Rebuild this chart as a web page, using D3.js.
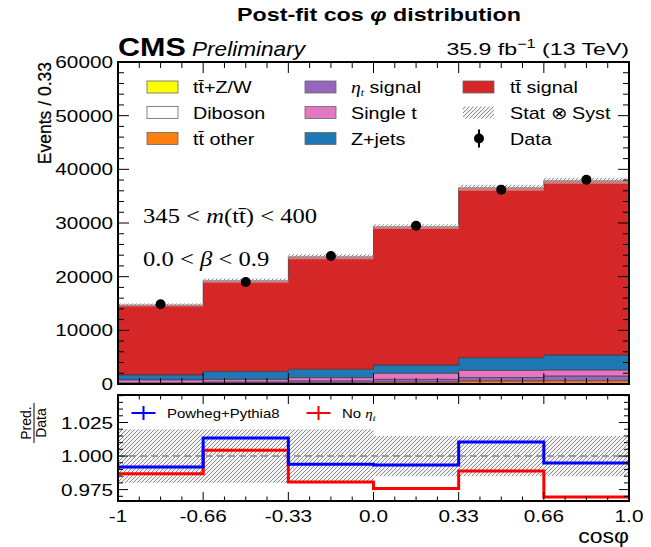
<!DOCTYPE html>
<html><head><meta charset="utf-8">
<script src="https://cdn.jsdelivr.net/npm/d3@7"></script>
<style>body{margin:0;background:#fff} svg{display:block}</style>
</head><body><svg id="c" width="651" height="547"></svg>
<script>
// cos(phi) bins and their tick labels
const binEdges = [-1, -0.6667, -0.3333, 0, 0.3333, 0.6667, 1];
const xTickLabels = ["-1", "-0.66", "-0.33", "0.0", "0.33", "0.66", "1.0"];
const yTicks = [0, 10000, 20000, 30000, 40000, 50000, 60000];
const ratioTicks = [0.975, 1.000, 1.025];
const ratioTickLabels = ["0.975", "1.000", "1.025"];

// post-fit yields per bin (stacked bottom to top)
const ttZW     = [20, 25, 30, 40, 50, 55];
const diboson  = [15, 20, 20, 25, 30, 30];
const ttOther  = [80, 120, 180, 300, 480, 520];
const etaT     = [100, 200, 350, 500, 650, 880];
const singleT  = [550, 480, 600, 1120, 1330, 1110];
const zJets    = [930, 1490, 1560, 1550, 2360, 2800];
const ttSignal = [13030, 16920, 20980, 25780, 31670, 32490];

// observed events
const dataVals = [14850, 19000, 23840, 29490, 36210, 38070];

// relative stat (+) syst uncertainty of the prediction
const relUnc = [0.020, 0.020, 0.020, 0.015, 0.015, 0.015];

// prediction / data
const ratioPowheg = [0.9918, 1.0134, 0.9938, 0.9933, 1.0104, 0.9948];
const ratioNoEta  = [0.9869, 1.0043, 0.9806, 0.9759, 0.9888, 0.9694];

const series = [
  {key: "ttZW",     vals: ttZW,     color: "#ffff00", label: "tt\u0304+Z/W"},
  {key: "diboson",  vals: diboson,  color: "#ffffff", label: "Diboson"},
  {key: "ttOther",  vals: ttOther,  color: "#ff7f0e", label: "tt\u0304 other"},
  {key: "etaT",     vals: etaT,     color: "#9467bd", label: "eta"},
  {key: "singleT",  vals: singleT,  color: "#e377c2", label: "Single t"},
  {key: "zJets",    vals: zJets,    color: "#1f77b4", label: "Z+jets"},
  {key: "ttSignal", vals: ttSignal, color: "#d62728", label: "tt\u0304 signal"}
];

const svg = d3.select("#c");
const SANS = "'Liberation Sans', Arial, Helvetica, sans-serif";
const SERIF = "'Liberation Serif', 'DejaVu Serif', serif";

const L = 118, R = 629;
const mainTop = 62, mainBot = 384;
const ratTop = 395, ratBot = 501;

const x = d3.scaleLinear().domain([-1, 1]).range([L, R]);
const y = d3.scaleLinear().domain([0, 60000]).range([mainBot, mainTop]);
const yr = d3.scaleLinear().domain([0.9665, 1.0455]).range([ratBot, ratTop]);

// defs: hatch pattern and clip paths
const defs = svg.append("defs");
const pat = defs.append("pattern").attr("id", "hatch").attr("patternUnits", "userSpaceOnUse")
  .attr("width", 4).attr("height", 4);
pat.append("rect").attr("width", 4).attr("height", 4).attr("fill", "#e8e8e8").attr("fill-opacity", 0.45);
pat.append("path").attr("d", "M-1,1 l2,-2 M0,4 l4,-4 M3,5 l2,-2")
  .attr("stroke", "#8a8a8a").attr("stroke-width", 1);
defs.append("clipPath").attr("id", "clipMain").append("rect")
  .attr("x", L).attr("y", mainTop).attr("width", R - L).attr("height", mainBot - mainTop);
defs.append("clipPath").attr("id", "clipRat").append("rect")
  .attr("x", L).attr("y", ratTop).attr("width", R - L).attr("height", ratBot - ratTop);

function txt(g, px, py, s, o = {}) {
  const t = g.append("text")
    .attr("transform", `translate(${px},${py}) scale(${o.sx || 1},1)`)
    .attr("text-anchor", o.anchor || "start")
    .attr("font-family", o.family || SANS)
    .attr("font-size", o.size || 17)
    .attr("font-weight", o.weight || "normal")
    .attr("font-style", o.style || "normal")
    .attr("fill", o.fill || "#000");
  if (s !== null) t.text(s);
  return t;
}

// ---------- main panel ----------
const rows = d3.range(6).map(i => {
  const r = {};
  series.forEach(s => r[s.key] = s.vals[i]);
  return r;
});
const stacked = d3.stack().keys(series.map(s => s.key))(rows);
const edgeIdx = d3.range(binEdges.length);
const bi = j => Math.min(j, 5);

const area = d3.area().curve(d3.curveStepAfter)
  .x(j => x(binEdges[j]));
const line = d3.line().curve(d3.curveStepAfter).x(j => x(binEdges[j]));

const gMain = svg.append("g").attr("clip-path", "url(#clipMain)");
stacked.forEach((layer, k) => {
  gMain.append("path")
    .attr("d", area.y0(j => y(layer[bi(j)][0])).y1(j => y(layer[bi(j)][1]))(edgeIdx))
    .attr("fill", series[k].color);
});
stacked.forEach((layer, k) => {
  gMain.append("path")
    .attr("d", line.y(j => y(layer[bi(j)][1]))(edgeIdx))
    .attr("fill", "none").attr("stroke", "#3a2a2a").attr("stroke-width", 0.9).attr("stroke-opacity", 0.8);
});

// uncertainty band on total prediction
const totals = d3.range(6).map(i => stacked[stacked.length - 1][i][1]);
gMain.append("path")
  .attr("d", area.y0(j => y(totals[bi(j)] * (1 - relUnc[bi(j)])))
                  .y1(j => y(totals[bi(j)] * (1 + relUnc[bi(j)])))(edgeIdx))
  .attr("fill", "url(#hatch)");

// data points
const centers = d3.range(6).map(i => (binEdges[i] + binEdges[i + 1]) / 2);
gMain.selectAll("circle.data").data(dataVals).join("circle")
  .attr("cx", (d, i) => x(centers[i])).attr("cy", d => y(d)).attr("r", 5).attr("fill", "#000");

// ticks on main panel
const gTicks = svg.append("g").attr("stroke", "#000").attr("stroke-width", 1);
const yMinor = d3.range(0, 60001, 2000);
yMinor.forEach(v => {
  const len = v % 10000 === 0 ? 11 : 6;
  gTicks.append("line").attr("x1", L).attr("x2", L + len).attr("y1", y(v)).attr("y2", y(v));
  gTicks.append("line").attr("x1", R).attr("x2", R - len).attr("y1", y(v)).attr("y2", y(v));
});
const xMinor = [];
for (let i = 0; i < 6; i++) for (let k = 0; k < 4; k++)
  xMinor.push({v: binEdges[i] + (binEdges[i + 1] - binEdges[i]) * k / 4, major: k === 0});
xMinor.push({v: 1, major: true});
xMinor.forEach(t => {
  const len = t.major ? 11 : 6;
  gTicks.append("line").attr("x1", x(t.v)).attr("x2", x(t.v)).attr("y1", mainTop).attr("y2", mainTop + len);
  gTicks.append("line").attr("x1", x(t.v)).attr("x2", x(t.v)).attr("y1", mainBot).attr("y2", mainBot - len);
});
svg.append("rect").attr("x", L).attr("y", mainTop).attr("width", R - L).attr("height", mainBot - mainTop)
  .attr("fill", "none").attr("stroke", "#000").attr("stroke-width", 2);

// y tick labels
yTicks.forEach(v => txt(svg, L - 5, y(v) + 6, String(v), {anchor: "end", size: 17, sx: 1.22}));

// y title
svg.append("text").attr("transform", `translate(51,${mainTop}) rotate(-90)`)
  .attr("text-anchor", "end").attr("font-family", SANS).attr("font-size", 17.5)
  .attr("stroke", "#000").attr("stroke-width", 0.25).text("Events / 0.33");

// title and header texts
const title = txt(svg, 379, 21, null, {anchor: "middle", size: 17.5, weight: "bold", sx: 1.33});
title.append("tspan").text("Post-fit cos ");
title.append("tspan").attr("font-style", "italic").text("\u03c6");
title.append("tspan").text(" distribution");

txt(svg, L, 56, "CMS", {size: 25, weight: "bold", sx: 1.22});
txt(svg, 192, 56, "Preliminary", {size: 20, style: "italic", sx: 1.13});
const lumi = txt(svg, R, 55, null, {anchor: "end", size: 17, sx: 1.36});
lumi.append("tspan").text("35.9 fb");
lumi.append("tspan").attr("font-size", 12).attr("dy", -7).text("\u22121");
lumi.append("tspan").attr("dy", 7).text(" (13 TeV)");

// region annotations
const a1 = txt(svg, 143, 223, null, {family: SERIF, size: 22, sx: 1.12});
a1.append("tspan").text("345 < ");
a1.append("tspan").attr("font-style", "italic").text("m");
a1.append("tspan").text("(tt\u0304) < 400");
const a2 = txt(svg, 143, 266, null, {family: SERIF, size: 22, sx: 1.12});
a2.append("tspan").text("0.0 < ");
a2.append("tspan").attr("font-style", "italic").text("\u03b2");
a2.append("tspan").text(" < 0.9");

// legend
const legRows = [87, 112.5, 138.5];
const legCols = [{sw: 147, tx: 193}, {sw: 305, tx: 351}, {sw: 463, tx: 510}];
const legItems = [
  [0, 0, series[0]], [0, 1, series[1]], [0, 2, series[2]],
  [1, 0, series[3]], [1, 1, series[4]], [1, 2, series[5]],
  [2, 0, series[6]]
];
legItems.forEach(([c, r, s]) => {
  const cy = legRows[r];
  svg.append("rect").attr("x", legCols[c].sw).attr("y", cy - 6).attr("width", 31).attr("height", 12)
    .attr("fill", s.color).attr("stroke", "#666").attr("stroke-width", 0.8);
  if (s.key === "etaT") {
    const t = txt(svg, legCols[c].tx, cy + 6, null, {size: 17, sx: 1.16});
    t.append("tspan").attr("font-family", SERIF).attr("font-style", "italic").text("\u03b7");
    t.append("tspan").attr("font-family", SERIF).attr("font-style", "italic").attr("font-size", 10).attr("dy", 3).text("t");
    t.append("tspan").attr("dy", -3).text(" signal");
  } else {
    txt(svg, legCols[c].tx, cy + 6, s.label, {size: 17, sx: 1.16});
  }
});
// Stat (x) Syst entry
svg.append("rect").attr("x", legCols[2].sw).attr("y", legRows[1] - 6).attr("width", 31).attr("height", 12)
  .attr("fill", "url(#hatch)");
txt(svg, legCols[2].tx, legRows[1] + 6, "Stat \u2297 Syst", {size: 17, sx: 1.16});
// Data entry
svg.append("line").attr("x1", 479).attr("x2", 479).attr("y1", legRows[2] - 9).attr("y2", legRows[2] + 9)
  .attr("stroke", "#000").attr("stroke-width", 2);
svg.append("circle").attr("cx", 479).attr("cy", legRows[2]).attr("r", 5).attr("fill", "#000");
txt(svg, legCols[2].tx, legRows[2] + 6, "Data", {size: 17, sx: 1.16});

// ---------- ratio panel ----------
const gRat = svg.append("g").attr("clip-path", "url(#clipRat)");
gRat.append("path")
  .attr("d", area.y0(j => yr(1 - relUnc[bi(j)])).y1(j => yr(1 + relUnc[bi(j)]))(edgeIdx))
  .attr("fill", "url(#hatch)");
gRat.append("line").attr("x1", L).attr("x2", R).attr("y1", yr(1)).attr("y2", yr(1))
  .attr("stroke", "#999").attr("stroke-width", 2).attr("stroke-dasharray", "7,4");
gRat.append("path").attr("d", line.y(j => yr(ratioNoEta[bi(j)]))(edgeIdx))
  .attr("fill", "none").attr("stroke", "#ff0000").attr("stroke-width", 3);
gRat.append("path").attr("d", line.y(j => yr(ratioPowheg[bi(j)]))(edgeIdx))
  .attr("fill", "none").attr("stroke", "#0000ff").attr("stroke-width", 3);

const gRT = svg.append("g").attr("stroke", "#000").attr("stroke-width", 1);
d3.range(0.970, 1.0451, 0.005).forEach(v => {
  const major = Math.abs((v - 0.975) / 0.025 - Math.round((v - 0.975) / 0.025)) < 1e-6;
  const len = major ? 10 : 5;
  gRT.append("line").attr("x1", L).attr("x2", L + len).attr("y1", yr(v)).attr("y2", yr(v));
  gRT.append("line").attr("x1", R).attr("x2", R - len).attr("y1", yr(v)).attr("y2", yr(v));
});
xMinor.forEach(t => {
  const len = t.major ? 9 : 4.5;
  gRT.append("line").attr("x1", x(t.v)).attr("x2", x(t.v)).attr("y1", ratBot).attr("y2", ratBot - len);
  gRT.append("line").attr("x1", x(t.v)).attr("x2", x(t.v)).attr("y1", ratTop).attr("y2", ratTop + len);
});
svg.append("rect").attr("x", L).attr("y", ratTop).attr("width", R - L).attr("height", ratBot - ratTop)
  .attr("fill", "none").attr("stroke", "#000").attr("stroke-width", 2);

ratioTicks.forEach((v, i) => txt(svg, L - 5, yr(v) + 6, ratioTickLabels[i], {anchor: "end", size: 17, sx: 1.22}));
binEdges.forEach((v, i) => txt(svg, x(v), 522, xTickLabels[i], {anchor: "middle", size: 17, sx: 1.22}));
const xt = txt(svg, R, 543, null, {anchor: "end", size: 20, sx: 1.15});
xt.append("tspan").text("cos");
xt.append("tspan").text("\u03c6");

// ratio y title as a fraction
const gFrac = svg.append("g").attr("transform", "translate(34,423) rotate(-90)");
gFrac.append("text").attr("x", 0).attr("y", -3).attr("text-anchor", "middle").attr("font-family", SANS)
  .attr("font-size", 14).text("Pred.");
gFrac.append("line").attr("x1", -20).attr("x2", 20).attr("y1", 0).attr("y2", 0).attr("stroke", "#000").attr("stroke-width", 1);
gFrac.append("text").attr("x", 0).attr("y", 12).attr("text-anchor", "middle").attr("font-family", SANS)
  .attr("font-size", 14).text("Data");

// ratio legend
[[143.5, "#0000ff"], [318.5, "#ff0000"]].forEach(([cx, col]) => {
  svg.append("line").attr("x1", cx - 12).attr("x2", cx + 12).attr("y1", 413).attr("y2", 413)
    .attr("stroke", col).attr("stroke-width", 2);
  svg.append("line").attr("x1", cx).attr("x2", cx).attr("y1", 406).attr("y2", 420)
    .attr("stroke", col).attr("stroke-width", 2);
});
txt(svg, 167, 418, "Powheg+Pythia8", {size: 13, sx: 1.15});
const ne = txt(svg, 342, 418, null, {size: 13, sx: 1.15});
ne.append("tspan").text("No ");
ne.append("tspan").attr("font-family", SERIF).attr("font-style", "italic").text("\u03b7");
ne.append("tspan").attr("font-family", SERIF).attr("font-style", "italic").attr("font-size", 9).attr("dy", 3).text("t");
</script></body></html>
